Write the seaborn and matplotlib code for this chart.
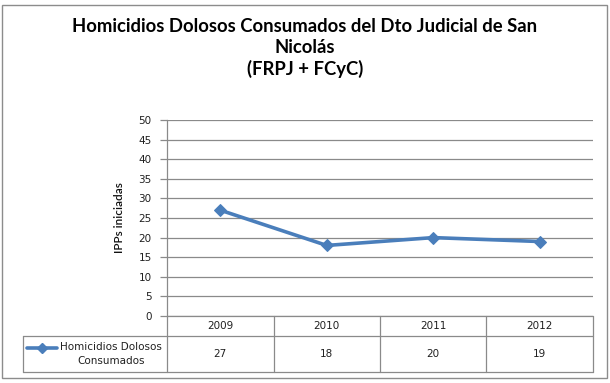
import matplotlib
matplotlib.use("Agg")
import matplotlib.pyplot as plt
import matplotlib.transforms as mtransforms
import seaborn as sns
import pandas as pd

years = ["2009", "2010", "2011", "2012"]
values = [27, 18, 20, 19]
series_name = "Homicidios Dolosos\nConsumados"
title = "Homicidios Dolosos Consumados del Dto Judicial de San\nNicolás\n(FRPJ + FCyC)"
ylabel = "IPPs iniciadas"
yticks = list(range(0, 51, 5))

sns.set_theme(style="white")
plt.rcParams["font.family"] = ["DejaVu Sans"]

W, H = 610, 383
fig = plt.figure(figsize=(W / 100, H / 100), dpi=100)
fig.patch.set_facecolor("white")

# outer border
fig.add_artist(plt.Rectangle((2 / W, 5 / H), 605 / W, 373 / H, transform=fig.transFigure,
                             fill=False, edgecolor="#8c8c8c", linewidth=1.0))

x0, x1 = 167, 593
ytop, ybot = 120, 316
ax = fig.add_axes([x0 / W, 1 - ybot / H, (x1 - x0) / W, (ybot - ytop) / H])

df = pd.DataFrame({"x": range(len(years)), "v": values})
color = "#4a7ebb"
sns.lineplot(data=df, x="x", y="v", ax=ax, color=color, linewidth=2.6, marker="D",
             markersize=6.5, markeredgecolor=color, zorder=3)

ax.set_xlim(-0.5, len(years) - 0.5)
ax.set_ylim(0, 50)
ax.set_yticks(yticks)
ax.set_yticklabels([str(t) for t in yticks], fontsize=7.5, color="#202020")
ax.set_xticks([])
ax.set_xlabel("")
ax.set_ylabel(ylabel, fontsize=8.5, family="Lato", fontweight="semibold", labelpad=10, color="#111111")
ax.yaxis.grid(True, color="#8a8a8a", linewidth=0.9)
ax.set_axisbelow(True)
for s in ["top", "right", "bottom"]:
    ax.spines[s].set_visible(False)
ax.spines["left"].set_color("#8a8a8a")
ax.spines["left"].set_linewidth(0.9)
ax.tick_params(axis="y", which="major", left=True, length=5, width=0.9, color="#8a8a8a", pad=6)

fig.text(0.5, 1 - 48 / H, title, ha="center", va="center", fontsize=13.3,
         family="Lato", fontweight="bold", linespacing=1.25, color="black")

# data table
lc = "#8a8a8a"
trans = mtransforms.blended_transform_factory(ax.transData, fig.transFigure)
ftrans = fig.transFigure
def fy(py):
    return 1 - py / H
r0, r1, r2 = 316, 336, 372
tl = 23
fig.add_artist(plt.Line2D([x0 / W, x1 / W], [fy(r0), fy(r0)], transform=ftrans, color=lc, lw=0.9))
fig.add_artist(plt.Line2D([tl / W, x1 / W], [fy(r1), fy(r1)], transform=ftrans, color=lc, lw=0.9))
fig.add_artist(plt.Line2D([tl / W, x1 / W], [fy(r2), fy(r2)], transform=ftrans, color=lc, lw=0.9))
fig.add_artist(plt.Line2D([tl / W, tl / W], [fy(r1), fy(r2)], transform=ftrans, color=lc, lw=0.9))
for i in range(len(years) + 1):
    xb = i - 0.5
    fig.add_artist(plt.Line2D([xb, xb], [fy(r0), fy(r2)], transform=trans, color=lc, lw=0.9))
for i, (yr, v) in enumerate(zip(years, values)):
    fig.text(i, fy((r0 + r1) / 2), yr, transform=trans, ha="center", va="center",
             fontsize=7.5, color="#202020")
    fig.text(i, fy((r1 + r2) / 2), str(v), transform=trans, ha="center", va="center",
             fontsize=7.5, color="#202020")
# legend key
ly = fy(348)
fig.add_artist(plt.Line2D([27 / W, 57 / W], [ly, ly], transform=ftrans, color=color, lw=2.6))
fig.add_artist(plt.Line2D([42 / W], [ly], transform=ftrans, color=color, marker="D", markersize=5.5))
fig.text(111 / W, fy((r1 + r2) / 2), series_name, ha="center", va="center",
         fontsize=7.5, color="#202020", linespacing=1.4)

fig.savefig("out.png", dpi=100)
